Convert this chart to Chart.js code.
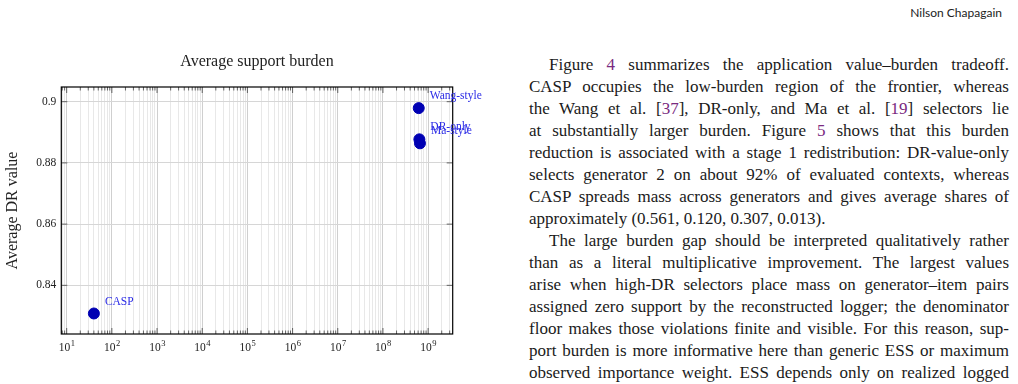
<!DOCTYPE html>
<html>
<head>
<meta charset="utf-8">
<script src="https://cdn.jsdelivr.net/npm/chart.js@4/dist/chart.umd.min.js"></script>
<style>
  body { margin: 0; width: 1018px; height: 384px; overflow: hidden; background: #fff; position: relative; }
  #hdr { position: absolute; right: 16px; top: 5px; font: 12px Lato, sans-serif; color: #222; }
  #wrap { position: absolute; left: 0; top: 40px; width: 495px; height: 320px; }
  #col { position: absolute; left: 529px; top: 54px; width: 480px; font-family: "Liberation Serif", serif; font-size: 17px; line-height: 22px; color: #1a1a1a; }
  #col div { text-align: justify; text-align-last: justify; }
  #col div.ind { text-indent: 20px; }
  #col div.end { text-align-last: left; }
  #col a { color: #7a2a80; text-decoration: none; }
</style>
</head>
<body>
<div id="hdr">Nilson Chapagain</div>
<div id="wrap"><canvas id="myChart" width="495" height="320"></canvas></div>
<div id="col">
  <div class="ind">Figure <a>4</a> summarizes the application value–burden tradeoff.</div>
  <div>CASP occupies the low-burden region of the frontier, whereas</div>
  <div>the Wang et al. [<a>37</a>], DR-only, and Ma et al. [<a>19</a>] selectors lie</div>
  <div>at substantially larger burden. Figure <a>5</a> shows that this burden</div>
  <div>reduction is associated with a stage 1 redistribution: DR-value-only</div>
  <div>selects generator 2 on about 92% of evaluated contexts, whereas</div>
  <div>CASP spreads mass across generators and gives average shares of</div>
  <div class="end">approximately (0.561, 0.120, 0.307, 0.013).</div>
  <div class="ind">The large burden gap should be interpreted qualitatively rather</div>
  <div>than as a literal multiplicative improvement. The largest values</div>
  <div>arise when high-DR selectors place mass on generator–item pairs</div>
  <div>assigned zero support by the reconstructed logger; the denominator</div>
  <div>floor makes those violations finite and visible. For this reason, sup-</div>
  <div>port burden is more informative here than generic ESS or maximum</div>
  <div>observed importance weight. ESS depends only on realized logged</div>
</div>
<script>
const methods = ["CASP", "Wang-style", "DR-only", "Ma-style"];
const burden = [40, 6.2e8, 6.4e8, 6.6e8];
const drValue = [0.8308, 0.8979, 0.8877, 0.8864];

const xMajorTicks = [1e1, 1e2, 1e3, 1e4, 1e5, 1e6, 1e7, 1e8, 1e9];
const xTickExponents = [1, 2, 3, 4, 5, 6, 7, 8, 9];
const yTicks = [0.84, 0.86, 0.88, 0.9];
const xMin = 7.6, xMax = 3.5e9;
const yMin = 0.8241, yMax = 0.9048;

const serif = "'Liberation Serif', serif";

// all log ticks (1..9 x 10^k) inside the range
const xTickValues = [];
for (let k = 0; k <= 9; k++) {
    for (let m = 1; m <= 9; m++) {
        const v = m * Math.pow(10, k);
        if (v >= xMin && v <= xMax) xTickValues.push(m === 1 ? xMajorTicks[k - 1] : v);
    }
}
const isMajor = v => xMajorTicks.includes(v);

const ctx = document.getElementById("myChart");

// frame, inward ticks, title, 10^k labels and point labels
const framePlugin = {
    id: "frame",
    beforeDatasetsDraw(chart) {
        const c = chart.ctx;
        const {left, right, top, bottom} = chart.chartArea;
        const x = chart.scales.x, y = chart.scales.y;
        c.save();
        c.strokeStyle = "#444";
        c.lineWidth = 0.8;
        c.beginPath();
        for (const v of xTickValues) {
            const px = x.getPixelForValue(v);
            const len = isMajor(v) ? 6 : 3.5;
            c.moveTo(px, bottom); c.lineTo(px, bottom - len);
            c.moveTo(px, top); c.lineTo(px, top + len);
        }
        for (const v of yTicks) {
            const py = y.getPixelForValue(v);
            c.moveTo(left, py); c.lineTo(left + 6, py);
            c.moveTo(right, py); c.lineTo(right - 6, py);
        }
        c.stroke();
        c.strokeStyle = "#000";
        c.lineWidth = 1.2;
        c.strokeRect(left, top, right - left, bottom - top);

        c.fillStyle = "#222";
        c.font = "16px " + serif;
        c.textAlign = "center";
        c.textBaseline = "middle";
        c.fillText("Average support burden", (left + right) / 2, 22);

        // x labels as 10 with a raised exponent
        c.textBaseline = "alphabetic";
        xMajorTicks.forEach((v, i) => {
            const px = x.getPixelForValue(v);
            const base = "10", ex = String(xTickExponents[i]);
            c.font = "11.5px " + serif;
            const wb = c.measureText(base).width;
            c.font = "8.5px " + serif;
            const we = c.measureText(ex).width;
            const x0 = px - (wb + we) / 2;
            c.textAlign = "left";
            c.font = "11.5px " + serif;
            c.fillText(base, x0, bottom + 17);
            c.font = "8.5px " + serif;
            c.fillText(ex, x0 + wb + 0.5, bottom + 12);
        });
        c.restore();
    },
    afterDatasetsDraw(chart) {
        const c = chart.ctx;
        const meta = chart.getDatasetMeta(0);
        c.save();
        c.fillStyle = "#2b2be6";
        c.font = "11.5px " + serif;
        c.textAlign = "left";
        c.textBaseline = "middle";
        meta.data.forEach((el, i) => {
            c.fillText(methods[i], el.x + 11, el.y - 12);
        });
        c.restore();
    }
};

const dataChart = new Chart(ctx, {
    type: "scatter",
    data: {
        datasets: [{
            data: methods.map((m, i) => ({x: burden[i], y: drValue[i]})),
            backgroundColor: "#0000b3",
            borderColor: "#0000b3",
            pointRadius: 5.5,
            pointHoverRadius: 5.5
        }]
    },
    options: {
        responsive: false,
        animation: false,
        layout: {padding: {left: 0, right: 42.3, top: 47, bottom: 0}},
        plugins: {
            legend: {display: false},
            tooltip: {enabled: false}
        },
        scales: {
            x: {
                type: "logarithmic",
                min: xMin,
                max: xMax,
                afterBuildTicks: s => { s.ticks = xTickValues.map(v => ({value: v})); },
                afterFit: s => { s.height = 26; },
                border: {display: false},
                grid: {
                    drawTicks: false,
                    color: c => (c.tick && isMajor(c.tick.value)) ? "#cfcfcf" : "#e8e8e8",
                    lineWidth: 1
                },
                ticks: {
                    autoSkip: false,
                    maxRotation: 0,
                    callback: () => ""
                }
            },
            y: {
                min: yMin,
                max: yMax,
                afterBuildTicks: s => { s.ticks = yTicks.map(v => ({value: v})); },
                afterFit: s => { s.width = 61.3; },
                border: {display: false},
                grid: {drawTicks: false, color: "#d6d6d6"},
                ticks: {
                    padding: 5,
                    color: "#222",
                    font: {family: serif, size: 11.5},
                    callback: v => String(Math.round(v * 100) / 100)
                },
                title: {
                    display: true,
                    text: "Average DR value",
                    color: "#222",
                    font: {family: serif, size: 16},
                    padding: {top: 3.5, bottom: 0}
                }
            }
        }
    },
    plugins: [framePlugin]
});
</script>
</body>
</html>
